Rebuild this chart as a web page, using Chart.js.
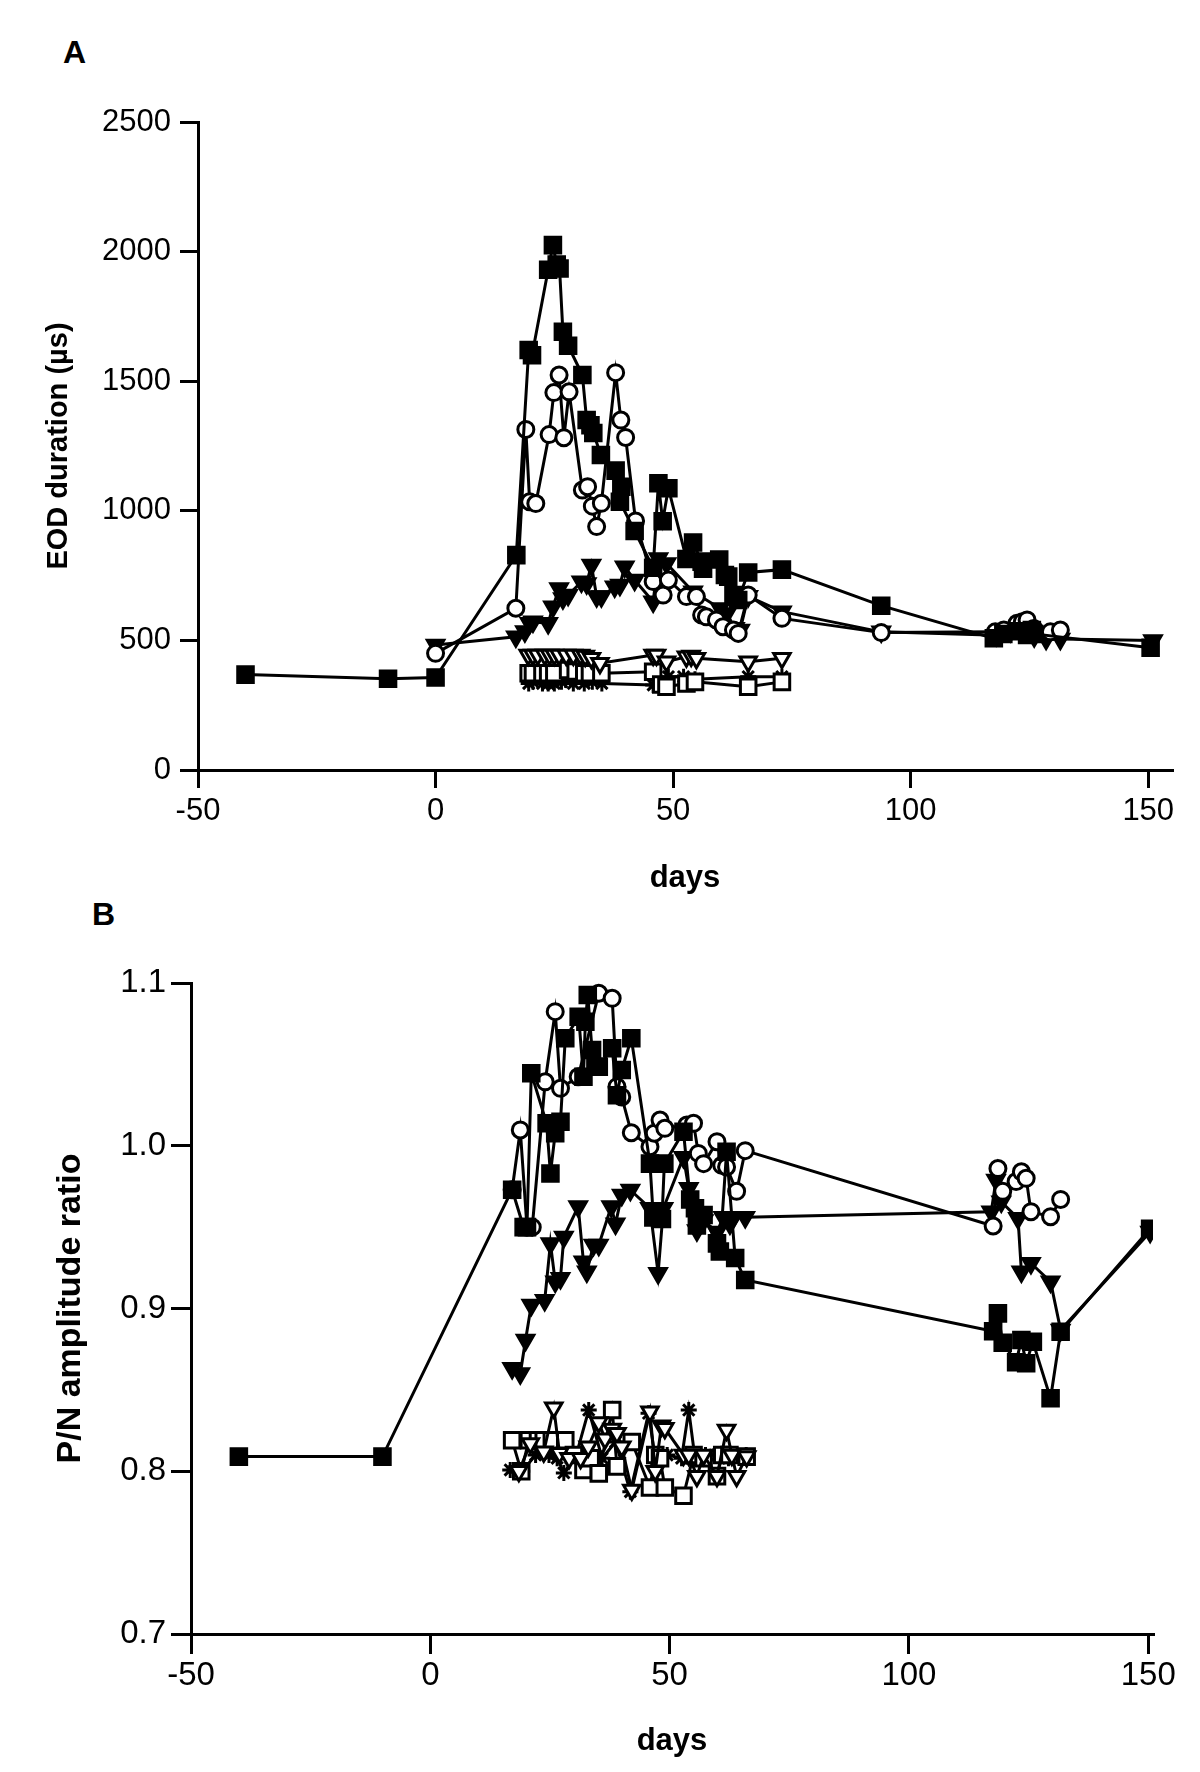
<!DOCTYPE html>
<html>
<head>
<meta charset="utf-8">
<script src="https://cdn.jsdelivr.net/npm/chart.js@4.4.1/dist/chart.umd.min.js"></script>
<style>
  html, body { margin: 0; padding: 0; background: #fff; }
  body { width: 1200px; height: 1772px; position: relative; overflow: hidden; }
  .wrap { position: absolute; left: 0; width: 1200px; }
  #wrapA { top: 0; height: 900px; }
  #wrapB { top: 900px; height: 872px; }
  .panel-label { position: absolute; font-family: "Liberation Sans", Arial, sans-serif; font-weight: bold; font-size: 32px; color: #000; line-height: 1; }
</style>
</head>
<body>
<div class="panel-label" style="left:63px; top:36px;">A</div>
<div class="panel-label" style="left:92px; top:898px;">B</div>
<div class="wrap" id="wrapA"><canvas id="chartA" width="1200" height="900"></canvas></div>
<div class="wrap" id="wrapB"><canvas id="chartB" width="1200" height="872"></canvas></div>
<script>
// ---------------- tick labels ----------------
const xTicks = [-50, 0, 50, 100, 150];
const yTicksA = [0, 500, 1000, 1500, 2000, 2500];
const yTicksB = [0.7, 0.8, 0.9, 1.0, 1.1];

// ---------------- Panel A: EOD duration (µs) vs days ----------------
const aFilledSqDays = [-40, -10, 0, 17, 19.6, 20.3, 23.7, 24.7, 25.5, 26.1, 26.8, 27.9, 30.9, 31.8, 32.6, 33.2, 34.8, 37.9, 39.1, 38.8, 41.9, 45.8, 46.9, 47.8, 49, 52.8, 54.2, 56, 56.3, 59.7, 60.9, 61.6, 62.7, 63.7, 65.8, 72.9, 93.8, 117.5, 119.5, 122.5, 124.5, 125.5, 126, 150.5];
const aFilledSqEod  = [368, 352, 357, 829, 1620, 1600, 1930, 2025, 1950, 1935, 1691, 1637, 1524, 1350, 1330, 1300, 1215, 1155, 1093, 1035, 922, 780, 1106, 960, 1087, 814, 878, 804, 777, 812, 752, 746, 675, 656, 762, 773, 634, 508, 525, 535, 521, 540, 525, 472];

const aOpenCircDays = [0, 16.9, 19, 19.8, 21.1, 23.9, 24.9, 26, 27, 28.1, 30.9, 32, 33, 33.9, 34.9, 37.9, 39, 40, 42.1, 45.8, 47.9, 49, 52.8, 54.9, 56, 57, 59.1, 60.5, 62.7, 63.7, 65.8, 72.9, 93.8, 117.8, 119.6, 122.4, 123.5, 124.5, 125.9, 129.4, 131.5];
const aOpenCircEod  = [450, 624, 1314, 1035, 1028, 1294, 1456, 1524, 1282, 1459, 1080, 1093, 1018, 939, 1029, 1533, 1350, 1283, 961, 727, 675, 733, 669, 669, 598, 591, 579, 553, 540, 527, 675, 585, 530, 533, 540, 566, 572, 579, 546, 533, 540];

const aFilledTriDays = [0, 16.9, 18.8, 19.8, 20.5, 23.7, 24.7, 26, 26.8, 27.9, 30.7, 31.8, 32.8, 33.9, 34.9, 37.7, 38.8, 39.8, 41.9, 45.8, 46.9, 48.6, 54.2, 59.9, 61.3, 63, 64.1, 65.8, 72.9, 93.8, 118, 121, 123.5, 126, 128.5, 131.5, 151];
const aFilledTriEod  = [482, 514, 534, 566, 572, 566, 630, 700, 662, 675, 726, 720, 791, 669, 669, 707, 714, 784, 733, 649, 816, 797, 688, 623, 604, 547, 540, 670, 611, 533, 520, 535, 545, 515, 505, 505, 500];

const aOpenTriDays = [19.5, 20.5, 21.5, 23, 24, 25, 26, 27.5, 29, 30.5, 31.5, 32.8, 34.6, 45.8, 46.5, 48.6, 52.8, 53.8, 54.9, 65.8, 72.9];
const aOpenTriEod  = [444, 444, 444, 444, 444, 444, 444, 444, 444, 444, 440, 431, 412, 444, 444, 418, 437, 440, 431, 418, 431];

const aOpenSqDays = [19.6, 20.5, 22.5, 23.7, 25, 27.9, 29.5, 31.3, 32.5, 34.9, 45.8, 47.5, 48.6, 52.8, 54.6, 65.8, 72.9];
const aOpenSqEod  = [373, 373, 373, 373, 373, 386, 380, 373, 373, 373, 379, 330, 321, 334, 340, 321, 340];

const aStarDays = [19.6, 20.5, 22.5, 23.7, 25, 26.5, 27.4, 29, 31.3, 33, 35, 45.8, 47.5, 49, 52.2, 54.6, 65.8, 72.9];
const aStarEod  = [334, 340, 334, 334, 334, 340, 347, 334, 334, 340, 334, 328, 330, 360, 360, 350, 360, 360];

// ---------------- Panel B: P/N amplitude ratio vs days ----------------
const bFilledSqDays = [-40, -10, 17.1, 19.5, 20.2, 21.1, 24.3, 25.1, 26.1, 27.2, 28.2, 31, 32, 32.4, 32.9, 33.8, 34.5, 35.2, 38, 39, 40, 42, 45.9, 46.6, 48.4, 48.9, 52.9, 54.3, 55.3, 55.7, 57.1, 59.9, 60.5, 61.9, 63.7, 65.8, 117.6, 118.6, 119.6, 122.4, 123.5, 124.5, 125.9, 129.6, 131.7, 150.4];
const bFilledSqRatio = [0.809, 0.809, 0.973, 0.950, 0.950, 1.0445, 1.0138, 0.983, 1.0077, 1.0148, 1.066, 1.0793, 1.0424, 1.0762, 1.0926, 1.0588, 1.0486, 1.0486, 1.0599, 1.031, 1.0465, 1.066, 0.989, 0.956, 0.955, 0.989, 1.0086, 0.967, 0.9616, 0.951, 0.9574, 0.940, 0.935, 0.9963, 0.931, 0.9175, 0.886, 0.897, 0.879, 0.867, 0.8807, 0.8663, 0.8796, 0.8448, 0.8857, 0.949];

const bOpenCircDays = [17.1, 18.8, 20.2, 21.3, 24, 26.1, 27.2, 30.9, 35.2, 38, 39, 40, 42, 45.9, 46.8, 48, 49, 53.6, 55, 56, 57.1, 59.9, 60.9, 61.9, 64, 65.8, 117.6, 118.6, 119.6, 122.4, 123.5, 124.5, 125.5, 129.6, 131.7];
const bOpenCircRatio = [0.973, 1.0097, 0.950, 0.950, 1.0393, 1.0824, 1.0353, 1.0424, 1.0937, 1.0906, 1.0363, 1.030, 1.008, 0.9994, 1.0077, 1.0158, 1.0107, 1.0127, 1.0138, 0.9953, 0.989, 1.0025, 0.988, 0.987, 0.972, 0.997, 0.9507, 0.986, 0.972, 0.978, 0.984, 0.980, 0.9595, 0.9564, 0.967];

const bFilledTriDays = [17.1, 18.8, 19.9, 21.1, 23.9, 25.1, 26.1, 27.2, 27.9, 30.9, 32, 32.7, 34.1, 35.2, 37.8, 38.7, 40, 41.8, 45.9, 47.6, 48.7, 52.9, 54, 55.7, 57.1, 59.9, 61.2, 62.6, 63.3, 65.8, 117.2, 118.2, 119.3, 122.8, 123.5, 125.5, 129.6, 131.7, 150.4];
const bFilledTriRatio = [0.8633, 0.860, 0.8807, 0.9021, 0.905, 0.940, 0.9165, 0.9186, 0.944, 0.9626, 0.9287, 0.9226, 0.939, 0.939, 0.9626, 0.952, 0.9697, 0.9728, 0.9616, 0.9216, 0.9616, 0.993, 0.9739, 0.948, 0.954, 0.947, 0.956, 0.952, 0.956, 0.956, 0.9595, 0.979, 0.9656, 0.9554, 0.9226, 0.9278, 0.9165, 0.8868, 0.947];

const bOpenTriDays = [18.5, 20.9, 23.7, 25.8, 27, 29, 31.4, 33, 35.2, 36.5, 38, 39, 40, 42.1, 45.9, 47, 48.3, 49, 52.9, 54, 55.7, 57.1, 59.9, 61.9, 63, 64, 66.1];
const bOpenTriRatio = [0.800, 0.817, 0.812, 0.839, 0.811, 0.808, 0.808, 0.815, 0.830, 0.820, 0.826, 0.8233, 0.815, 0.7885, 0.8366, 0.800, 0.828, 0.8264, 0.810, 0.810, 0.797, 0.810, 0.797, 0.8253, 0.810, 0.797, 0.809];

const bOpenSqDays = [17.1, 19, 20.6, 22.5, 23.7, 25.4, 28.2, 30, 32, 33.5, 35.2, 38, 39, 42.1, 45.9, 47, 48, 49, 52.9, 55, 57.1, 59.9, 61, 62.5, 66.1];
const bOpenSqRatio = [0.819, 0.800, 0.819, 0.819, 0.819, 0.819, 0.819, 0.810, 0.8008, 0.808, 0.7987, 0.8376, 0.803, 0.818, 0.790, 0.810, 0.808, 0.790, 0.785, 0.810, 0.808, 0.797, 0.810, 0.810, 0.809];

const bStarDays = [16.7, 19.2, 22, 24.8, 26.5, 27.9, 30.5, 33.1, 35.9, 38.7, 41.8, 45.6, 47, 49.5, 52.5, 54, 55.3, 57.5, 59.9, 62.3, 64, 66];
const bStarRatio = [0.8008, 0.800, 0.810, 0.810, 0.808, 0.799, 0.810, 0.8376, 0.808, 0.818, 0.7874, 0.8356, 0.808, 0.810, 0.808, 0.8376, 0.808, 0.810, 0.810, 0.808, 0.810, 0.810];

// ---------------- helpers ----------------
const FONT = '"Liberation Sans", Arial, Helvetica, sans-serif';
function pts(xs, ys) { return xs.map((x, i) => ({ x: x, y: ys[i] })); }

const markerStyles = {
  filledSquare: { pointStyle: 'rect', pointRadius: 11, pointBackgroundColor: '#000', pointRotation: 0 },
  openCircle:   { pointStyle: 'circle', pointRadius: 8, pointBackgroundColor: '#fff', pointRotation: 0 },
  filledTri:    { pointStyle: 'triangle', pointRadius: 9.5, pointBackgroundColor: '#000', pointRotation: 180 },
  openTri:      { pointStyle: 'triangle', pointRadius: 9.5, pointBackgroundColor: '#fff', pointRotation: 180 },
  openSquare:   { pointStyle: 'rect', pointRadius: 11, pointBackgroundColor: '#fff', pointRotation: 0 },
  star:         { pointStyle: 'star', pointRadius: 8, pointBackgroundColor: '#fff', pointRotation: 0 }
};

function ds(label, xs, ys, style) {
  return Object.assign({
    label: label,
    data: pts(xs, ys),
    showLine: true,
    borderColor: '#000',
    borderWidth: 3,
    pointBorderColor: '#000',
    pointBorderWidth: 3,
    tension: 0,
    fill: false
  }, markerStyles[style]);
}

function makeChart(id, cfg) {
  const ctx = document.getElementById(id).getContext('2d');
  return new Chart(ctx, {
    type: 'scatter',
    data: { datasets: cfg.datasets },
    options: {
      responsive: false,
      animation: false,
      events: [],
      layout: { padding: cfg.padding },
      plugins: { legend: { display: false }, tooltip: { enabled: false } },
      scales: {
        x: {
          type: 'linear',
          min: -50, max: cfg.xMax,
          afterBuildTicks: s => { s.ticks = xTicks.map(v => ({ value: v })); },
          afterFit: s => { s.height = cfg.xHeight; },
          grid: { drawOnChartArea: false, drawTicks: true, tickLength: cfg.tickLen, color: '#000', lineWidth: 3 },
          border: { display: true, color: '#000', width: 3 },
          ticks: { color: '#000', font: { family: FONT, size: cfg.tickFont }, padding: cfg.xPad, maxRotation: 0, callback: v => String(v) },
          title: { display: true, text: 'days', color: '#000', font: { family: FONT, size: 31, weight: 'bold' }, padding: { top: 0, bottom: cfg.xTitlePad } }
        },
        y: {
          type: 'linear',
          min: cfg.yMin, max: cfg.yMax,
          afterBuildTicks: s => { s.ticks = cfg.yTicks.map(v => ({ value: v })); },
          afterFit: s => { s.width = cfg.yWidth; },
          grid: { drawOnChartArea: false, drawTicks: true, tickLength: cfg.tickLen, color: '#000', lineWidth: 3 },
          border: { display: true, color: '#000', width: 3 },
          ticks: { color: '#000', font: { family: FONT, size: cfg.tickFont }, padding: cfg.yPad, callback: cfg.yFmt },
          title: { display: true, text: cfg.yTitle, color: '#000', font: { family: FONT, size: cfg.yTitleFont, weight: 'bold' }, padding: { top: cfg.yTitlePad, bottom: 0 } }
        }
      }
    }
  });
}

makeChart('chartA', {
  datasets: [
    ds('filled squares', aFilledSqDays, aFilledSqEod, 'filledSquare'),
    ds('open circles', aOpenCircDays, aOpenCircEod, 'openCircle'),
    ds('filled triangles', aFilledTriDays, aFilledTriEod, 'filledTri'),
    ds('open triangles', aOpenTriDays, aOpenTriEod, 'openTri'),
    ds('open squares', aOpenSqDays, aOpenSqEod, 'openSquare'),
    ds('asterisks', aStarDays, aStarEod, 'star')
  ],
  padding: { left: 0, top: 122, right: 28, bottom: 0 },
  xMax: 155, yMin: 0, yMax: 2500, yTicks: yTicksA,
  xHeight: 130, yWidth: 198, tickLen: 18, tickFont: 31, xPad: 5, yPad: 9,
  xTitlePad: 3, yTitlePad: 42, yTitleFont: 29,
  yTitle: 'EOD duration (µs)',
  yFmt: v => String(v)
});

makeChart('chartB', {
  datasets: [
    ds('filled squares', bFilledSqDays, bFilledSqRatio, 'filledSquare'),
    ds('open circles', bOpenCircDays, bOpenCircRatio, 'openCircle'),
    ds('filled triangles', bFilledTriDays, bFilledTriRatio, 'filledTri'),
    ds('open triangles', bOpenTriDays, bOpenTriRatio, 'openTri'),
    ds('open squares', bOpenSqDays, bOpenSqRatio, 'openSquare'),
    ds('asterisks', bStarDays, bStarRatio, 'star')
  ],
  padding: { left: 0, top: 83, right: 47, bottom: 0 },
  xMax: 151, yMin: 0.7, yMax: 1.1, yTicks: yTicksB,
  xHeight: 138, yWidth: 191, tickLen: 20, tickFont: 33, xPad: 2, yPad: 5,
  xTitlePad: 12, yTitlePad: 50, yTitleFont: 34,
  yTitle: 'P/N amplitude ratio',
  yFmt: v => v.toFixed(1)
});
</script>
</body>
</html>
